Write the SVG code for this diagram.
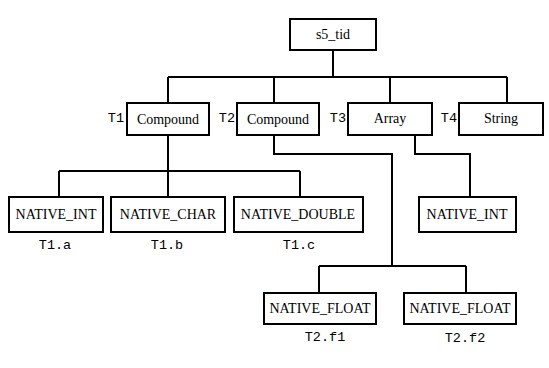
<svg xmlns="http://www.w3.org/2000/svg" width="549" height="368" viewBox="0 0 549 368">
<style>
.box{fill:#fff;stroke:#000;stroke-width:2}
.lbl{font-family:"Liberation Serif",serif;font-size:14px;text-anchor:middle;fill:#000}
.mono{font-family:"Liberation Mono",monospace;font-size:13.5px;fill:#000}
.tag{text-anchor:end}
.fld{text-anchor:middle}
.conn{fill:none;stroke:#000;stroke-width:2}
</style>
<rect width="549" height="368" fill="#fff"/>
<g id="connectors" class="conn">
<path d="M333,49 V77 M168,77 H507 M168,77 V103 M274,77 V103 M390,77 V103 M507,77 V103"/>
<path d="M168,135 V171 M59,171 H300 M59,171 V197 M168,171 V197 M300,171 V197"/>
<path d="M274,135 V154 H392 V266 M319,266 H466 M319,266 V293 M466,266 V293"/>
<path d="M415,135 V154 H470 V197"/>
</g>
<g id="s5_tid"><rect class="box" x="290" y="19" width="86" height="31"/><text class="lbl" x="333" y="39">s5_tid</text></g>
<g id="T1"><rect class="box" x="127" y="103" width="82" height="32"/><text class="lbl" x="168" y="124">Compound</text><text class="mono tag" x="124" y="122">T1</text></g>
<g id="T2"><rect class="box" x="237" y="103" width="82" height="32"/><text class="lbl" x="278" y="124">Compound</text><text class="mono tag" x="235" y="122">T2</text></g>
<g id="T3"><rect class="box" x="348" y="103" width="84" height="32"/><text class="lbl" x="390" y="123">Array</text><text class="mono tag" x="346" y="122">T3</text></g>
<g id="T4"><rect class="box" x="459" y="103" width="84" height="32"/><text class="lbl" x="501" y="123">String</text><text class="mono tag" x="457" y="122">T4</text></g>
<g id="T1a"><rect class="box" x="9" y="197" width="94" height="35"/><text class="lbl" x="56" y="219">NATIVE_INT</text><text class="mono fld" x="55" y="249">T1.a</text></g>
<g id="T1b"><rect class="box" x="111" y="197" width="114" height="35"/><text class="lbl" x="168" y="219">NATIVE_CHAR</text><text class="mono fld" x="167" y="249">T1.b</text></g>
<g id="T1c"><rect class="box" x="234" y="197" width="129" height="35"/><text class="lbl" x="298" y="219">NATIVE_DOUBLE</text><text class="mono fld" x="299" y="249">T1.c</text></g>
<g id="T3base"><rect class="box" x="419" y="197" width="97" height="35"/><text class="lbl" x="467" y="219">NATIVE_INT</text></g>
<g id="T2f1"><rect class="box" x="264" y="293" width="112" height="31"/><text class="lbl" x="320" y="313">NATIVE_FLOAT</text><text class="mono fld" x="325" y="341">T2.f1</text></g>
<g id="T2f2"><rect class="box" x="404" y="293" width="112" height="31"/><text class="lbl" x="460" y="313">NATIVE_FLOAT</text><text class="mono fld" x="465" y="342">T2.f2</text></g>
</svg>
